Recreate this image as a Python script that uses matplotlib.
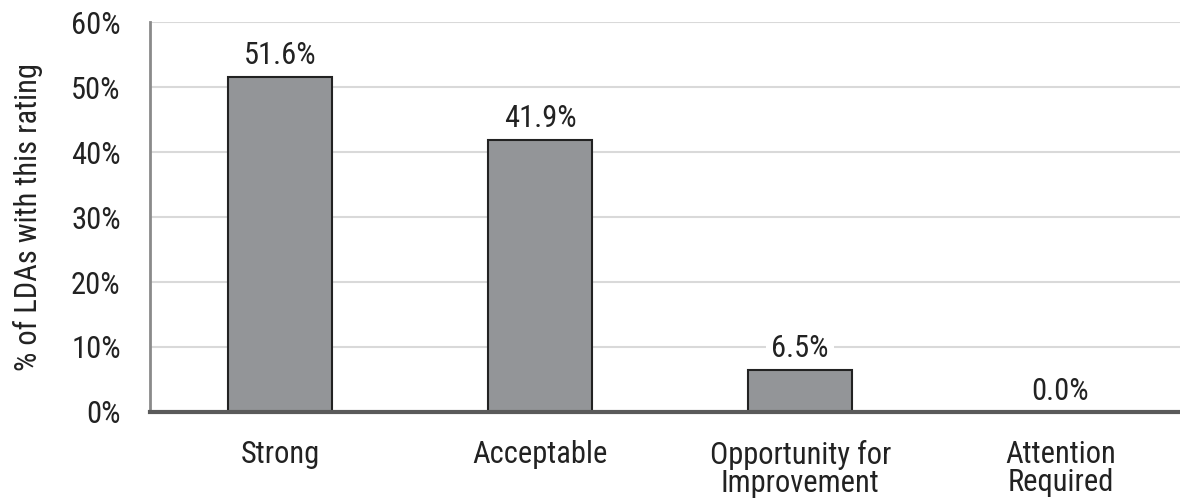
import matplotlib.pyplot as plt
from matplotlib.ticker import FuncFormatter

# Data
categories = ['Strong', 'Acceptable', 'Opportunity for\nImprovement', 'Attention\nRequired']
values = [51.6, 41.9, 6.5, 0.0]
yticks = [0, 10, 20, 30, 40, 50, 60]

plt.rcParams['font.family'] = ['Roboto Condensed', 'DejaVu Sans']

fig = plt.figure(figsize=(11.8, 5.03), dpi=100)
ax = fig.add_axes([0.127, 0.181, 0.873, 0.775])

x = range(len(categories))
ax.bar(x, [v if v > 0 else float('nan') for v in values], width=0.4,
       color='#939598', edgecolor='#222222', linewidth=1.5, zorder=3)

# value labels sit on a white box that hides the gridline behind them
for xi, v in zip(x, values):
    ax.text(xi, v + 1.9, f'{v:.1f}%', ha='center', va='baseline', fontsize=22,
            color='#222222', zorder=2,
            bbox=dict(facecolor='white', edgecolor='none', pad=4))

ax.set_xlim(-0.5, 3.46)
ax.set_ylim(0, 60)
ax.set_yticks(yticks)
ax.yaxis.set_major_formatter(FuncFormatter(lambda v, p: f'{v:.0f}%'))
ax.set_xticks(list(x))
ax.set_xticklabels(categories, fontsize=22, linespacing=0.95, color='#222222')
ax.tick_params(axis='y', labelsize=22, length=0, pad=21, labelcolor='#222222')
ax.tick_params(axis='x', length=0, pad=20)

ax.grid(axis='y', color='#d9d9d9', linewidth=1.5, zorder=0)
ax.set_axisbelow(True)
for s in ['top', 'right']:
    ax.spines[s].set_visible(False)
ax.spines['left'].set_color('#8a8a8a')
ax.spines['left'].set_linewidth(2)
ax.spines['bottom'].set_color('#5a5a5a')
ax.spines['bottom'].set_linewidth(3)
ax.spines['bottom'].set_zorder(3.5)

ax.set_ylabel('% of LDAs with this rating', fontsize=22, labelpad=20, color='#222222')

fig.savefig('out.png', dpi=100)
